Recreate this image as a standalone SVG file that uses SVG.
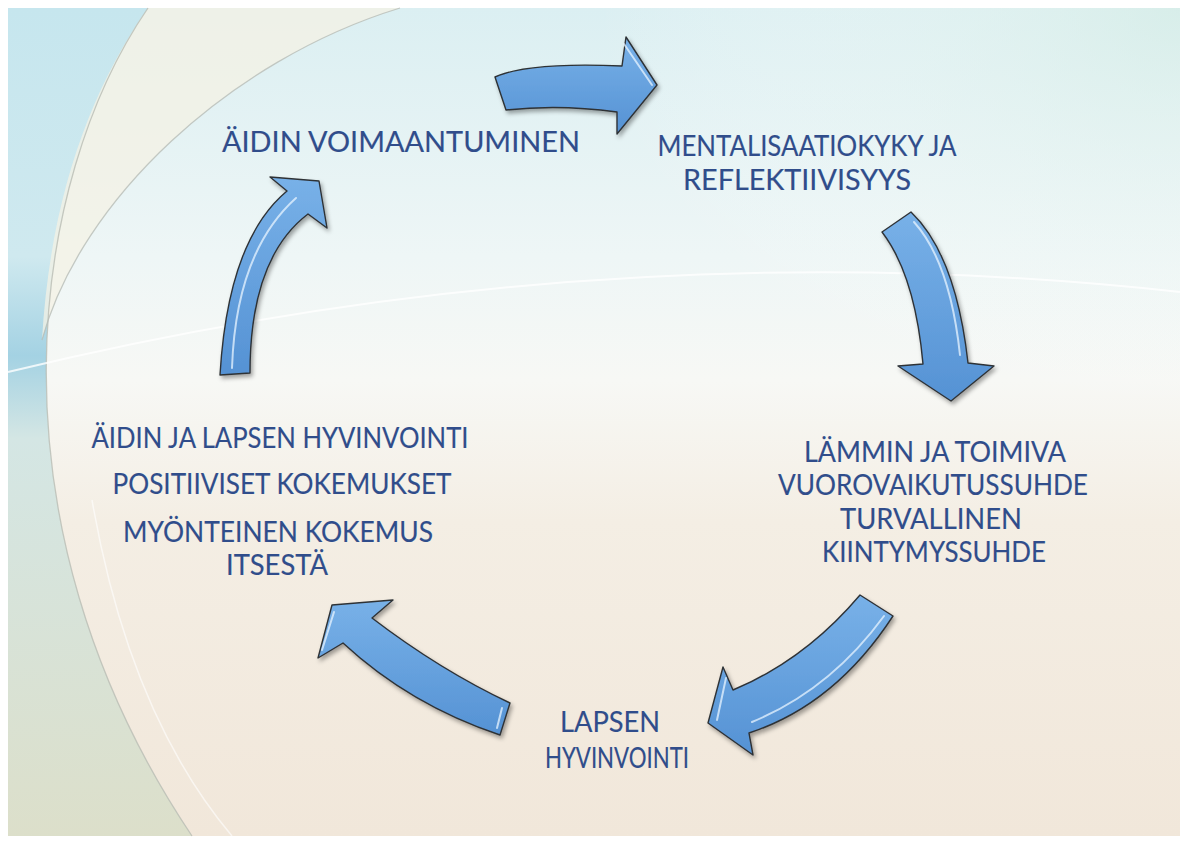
<svg xmlns="http://www.w3.org/2000/svg" width="1186" height="843" viewBox="0 0 1186 843">
<defs>
<style>
.lbl{font-family:Lato,"Open Sans","Liberation Sans",sans-serif;font-size:29px;fill:#304d8b;stroke:#304d8b;stroke-width:0.15;text-anchor:middle}
.arr{fill:url(#ag);stroke:#2e3236;stroke-width:1.4;stroke-linejoin:round;filter:url(#sh)}
.hl{fill:none;stroke:#e8f4ff;stroke-width:2;stroke-linecap:round;opacity:0.75}
</style>
<linearGradient id="bg" x1="0" y1="0" x2="0" y2="1">
<stop offset="0" stop-color="#dbeff2"/>
<stop offset="0.3" stop-color="#eef6f6"/>
<stop offset="0.45" stop-color="#f7f8f5"/>
<stop offset="0.62" stop-color="#f4eee4"/>
<stop offset="1" stop-color="#f1e7da"/>
</linearGradient>
<radialGradient id="tr" cx="1" cy="0" r="0.5">
<stop offset="0" stop-color="#d6ede6" stop-opacity="0.7"/>
<stop offset="1" stop-color="#ffffff" stop-opacity="0"/>
</radialGradient>
<linearGradient id="lg" x1="0" y1="0" x2="0" y2="1">
<stop offset="0" stop-color="#c6e6ee"/>
<stop offset="0.3" stop-color="#cfe9ef"/>
<stop offset="0.42" stop-color="#a4d2e3"/>
<stop offset="0.52" stop-color="#d4e6e4"/>
<stop offset="1" stop-color="#dcdfca"/>
</linearGradient>
<linearGradient id="ag" x1="0" y1="0" x2="0" y2="1">
<stop offset="0" stop-color="#78b1e8"/>
<stop offset="1" stop-color="#5592d4"/>
</linearGradient>
<filter id="sh" x="-20%" y="-20%" width="140%" height="140%">
<feDropShadow dx="2" dy="3" stdDeviation="2.2" flood-color="#000" flood-opacity="0.35"/>
</filter>
</defs>

<g id="background">
<rect x="0" y="0" width="1186" height="843" fill="#ffffff"/>
<rect x="8" y="8" width="1172" height="828" fill="url(#bg)"/>
<rect x="8" y="8" width="1172" height="828" fill="url(#tr)"/>
<path d="M8,8 L148,8 C30,180 -20,520 192,836 L8,836 Z" fill="url(#lg)"/>
<path d="M148,8 L400,8 C230,60 80,200 42,340 C50,200 90,90 148,8 Z" fill="#f4f2e4" opacity="0.75"/>
<path d="M148,8 C30,180 -20,520 192,836" fill="none" stroke="#b9bdb4" stroke-width="1.3" opacity="0.8"/>
<path d="M400,8 C230,60 80,200 42,340" fill="none" stroke="#b8bdb6" stroke-width="1.3" opacity="0.8"/>
<path d="M8,372 Q600,228 1180,292" fill="none" stroke="#ffffff" stroke-width="2" opacity="0.8"/>
<path d="M92,500 C118,650 168,760 232,836" fill="none" stroke="#ffffff" stroke-width="1.5" opacity="0.6"/>
</g>

<g id="connectors">
<g id="arrow-top">
<path class="arr" d="M495,77 Q528,62 622,66 L626,37 L657,85 L617,134 L617,112 Q560,104 506,110 Z"/>
<path class="hl" d="M624,44 L652,85"/>
</g>
<g id="arrow-right">
<path class="arr" d="M882,232 L911,212 Q956,255 968,363 L994,366 L951,401 L898,366 L923,364 Q915,275 882,232 Z"/>
<path class="hl" d="M914,222 Q950,262 960,355"/>
</g>
<g id="arrow-bottomright">
<path class="arr" d="M860,595 L893,616 Q835,705 749,733 L753,755 L708,723 L723,667 L733,690 Q805,660 860,595 Z"/>
<path class="hl" d="M884,616 Q830,690 752,722"/>
<path class="hl" d="M717,720 L726,678"/>
</g>
<g id="arrow-bottomleft">
<path class="arr" d="M510,703 L500,735 Q410,705 343,643 L318,658 L332,605 L393,600 L372,618 Q440,670 510,703 Z"/>
<path class="hl" d="M502,708 L497,728"/>
<path class="hl" d="M334,612 L322,650"/>
</g>
<g id="arrow-left">
<path class="arr" d="M220,375 L250,373 Q250,258 308,214 L327,228 L319,181 L270,177 L287,191 Q228,240 220,375 Z"/>
<path class="hl" d="M232,368 Q236,252 296,198"/>
</g>
</g>

<g id="node-aidin-voimaantuminen">
<text class="lbl" x="401" y="152" textLength="358" lengthAdjust="spacingAndGlyphs">ÄIDIN VOIMAANTUMINEN</text>
</g>
<g id="node-mentalisaatiokyky">
<text class="lbl" x="807" y="156" textLength="299" lengthAdjust="spacingAndGlyphs">MENTALISAATIOKYKY JA</text>
<text class="lbl" x="797" y="190" textLength="228" lengthAdjust="spacingAndGlyphs">REFLEKTIIVISYYS</text>
</g>
<g id="node-vuorovaikutussuhde">
<text class="lbl" x="935" y="462" textLength="262" lengthAdjust="spacingAndGlyphs">LÄMMIN JA TOIMIVA</text>
<text class="lbl" x="933" y="495" textLength="310" lengthAdjust="spacingAndGlyphs">VUOROVAIKUTUSSUHDE</text>
<text class="lbl" x="931" y="529" textLength="182" lengthAdjust="spacingAndGlyphs">TURVALLINEN</text>
<text class="lbl" x="934" y="562" textLength="224" lengthAdjust="spacingAndGlyphs">KIINTYMYSSUHDE</text>
</g>
<g id="node-lapsen-hyvinvointi">
<text class="lbl" x="610" y="732" textLength="100" lengthAdjust="spacingAndGlyphs">LAPSEN</text>
<text class="lbl" x="617" y="768" textLength="144" lengthAdjust="spacingAndGlyphs">HYVINVOINTI</text>
</g>
<g id="node-aidin-ja-lapsen">
<text class="lbl" x="280" y="448" textLength="377" lengthAdjust="spacingAndGlyphs">ÄIDIN JA LAPSEN HYVINVOINTI</text>
<text class="lbl" x="282" y="494" textLength="339" lengthAdjust="spacingAndGlyphs">POSITIIVISET KOKEMUKSET</text>
<text class="lbl" x="278" y="542" textLength="310" lengthAdjust="spacingAndGlyphs">MYÖNTEINEN KOKEMUS</text>
<text class="lbl" x="277" y="575" textLength="102" lengthAdjust="spacingAndGlyphs">ITSESTÄ</text>
</g>
</svg>
